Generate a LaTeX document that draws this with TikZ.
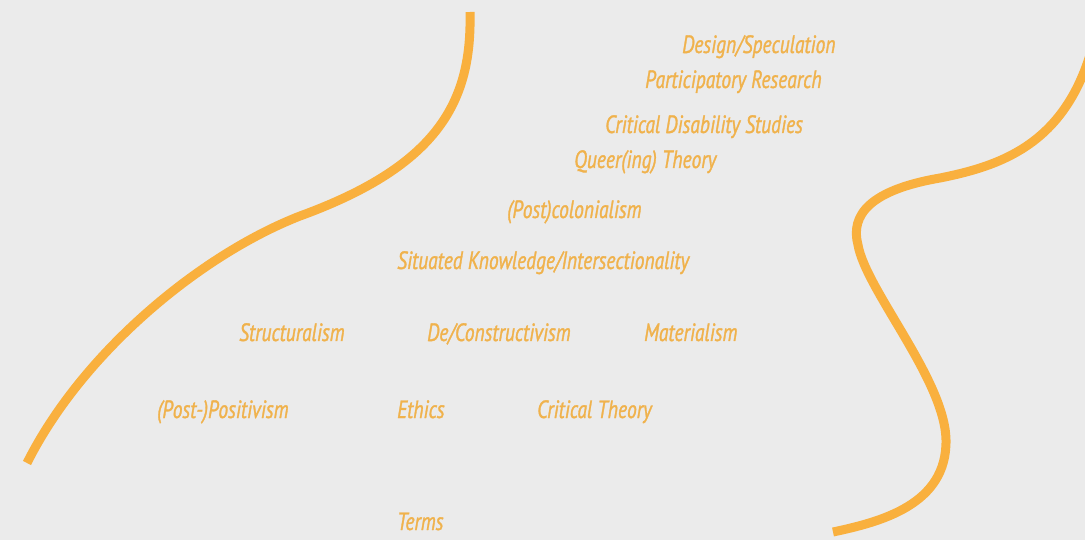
\documentclass[tikz,border=0pt]{standalone}
\usepackage{fontspec}
\newfontfamily\lblfont[FakeStretch=0.78, ItalicFeatures={FakeBold=1.2}]{PT Sans}
\definecolor{bgc}{HTML}{EBEBEB}
\definecolor{curvec}{HTML}{F9B03E}
\definecolor{textc}{HTML}{F0B24C}
\begin{document}
\begin{tikzpicture}[x=1pt,y=-1pt,
  term/.style={anchor=base west, inner sep=0pt, text=textc, font=\lblfont\itshape\fontsize{25}{25}\selectfont},
  wave/.style={draw=curvec, line width=9pt, line cap=butt}]
\fill[bgc] (0,0) rectangle (1085,540);
\useasboundingbox (0,0) rectangle (1085,540);
\draw[wave] (27,463) .. controls (82,353) and (200,255) .. (300,216)
  .. controls (440,165) and (472,100) .. (470,12);
\draw[wave] (1090,55) .. controls (1062,145) and (1000,166) .. (940,178)
  .. controls (870,190) and (850,215) .. (858,245)
  .. controls (866,290) and (945,380) .. (946,440)
  .. controls (947,505) and (880,522) .. (833,532);
\node[term] (ds) at (682,53) {Design/Speculation};
\node[term] (pr) at (645,88) {Participatory Research};
\node[term] (cds) at (605,133) {Critical Disability Studies};
\node[term] (qt) at (574,168) {Queer(ing) Theory};
\node[term] (pc) at (507,218) {(Post)colonialism};
\node[term] (sk) at (397,269) {Situated Knowledge/Intersectionality};
\node[term] (st) at (239,341) {Structuralism};
\node[term] (dc) at (427,341) {De/Constructivism};
\node[term] (ma) at (644,341) {Materialism};
\node[term] (pp) at (157,418) {(Post-)Positivism};
\node[term] (et) at (397,418) {Ethics};
\node[term] (ct) at (537,418) {Critical Theory};
\node[term] (te) at (397,530) {Terms};
\end{tikzpicture}
\end{document}
